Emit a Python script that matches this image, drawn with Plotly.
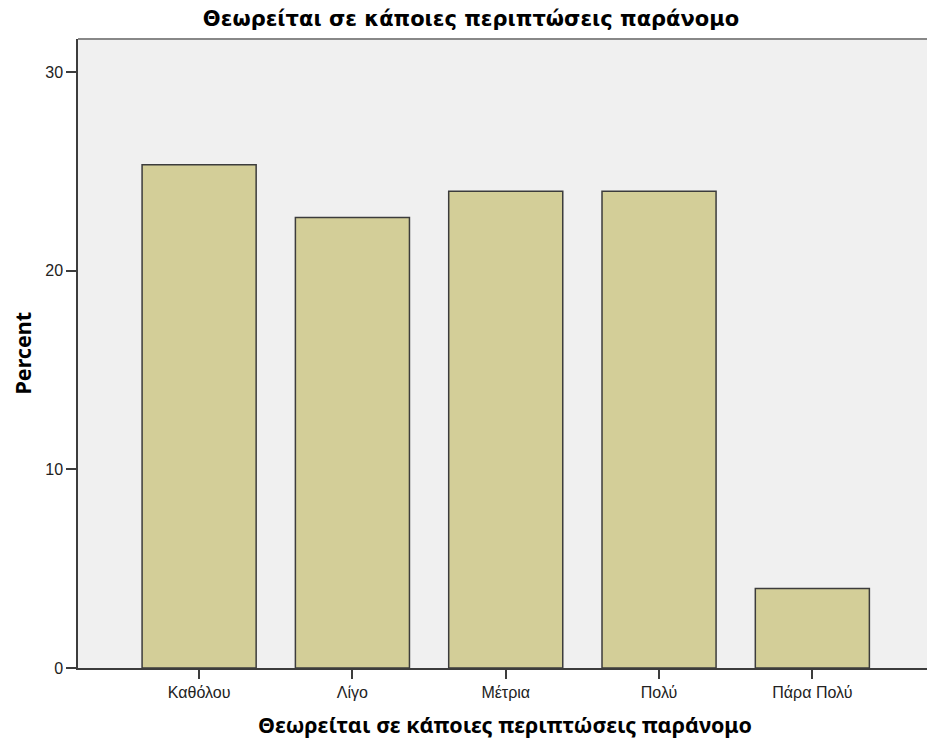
import plotly.graph_objects as go

categories = ["Καθόλου", "Λίγο", "Μέτρια", "Πολύ", "Πάρα Πολύ"]
percent = [25.33, 22.67, 24.0, 24.0, 4.0]
y_ticks = [0, 10, 20, 30]
title_text = "Θεωρείται σε κάποιες περιπτώσεις παράνομο"
y_title = "Percent"

# page body has an 8px default margin, so the figure is offset by 8px
W, H = 927, 735
L, R, T, B = 70, 0, 31, 75
pw, ph = W - L - R, H - T - B

fig = go.Figure(go.Bar(
    x=list(range(len(categories))), y=percent,
    marker=dict(color="#D3CE98", line=dict(color="#3c3c3c", width=1.5)),
    hoverinfo="skip",
))

tick_font = dict(family="Liberation Sans", size=16, color="#222")

fig.update_layout(
    width=W, height=H,
    margin=dict(l=L, r=R, t=T, b=B, pad=0),
    paper_bgcolor="white", plot_bgcolor="#F0F0F0",
    bargap=0.256, showlegend=False,
    title=dict(text=title_text, xref="container", x=463 / W, xanchor="center",
               yref="container", y=1 - 11 / H, yanchor="middle",
               font=dict(family="DejaVu Sans", size=21, color="#000000", weight="bold")),
    xaxis=dict(range=[-0.79, 4.8], tickmode="array",
               tickvals=list(range(len(categories))), ticktext=categories,
               ticks="outside", ticklen=9, tickcolor="#3c3c3c", tickwidth=1.5,
               showline=True, linecolor="#3c3c3c", linewidth=1.5,
               showgrid=False, zeroline=False, tickfont=tick_font),
    yaxis=dict(range=[0, 31.66], tickmode="array", tickvals=y_ticks,
               ticks="outside", ticklen=10, tickcolor="#3c3c3c", tickwidth=1.5,
               showline=True, linecolor="#3c3c3c", linewidth=1.5,
               showgrid=False, zeroline=False, tickfont=tick_font),
    shapes=[dict(type="line", xref="paper", yref="paper", x0=0, x1=1, y0=1, y1=1,
                 line=dict(color="#888888", width=2))],
    annotations=[
        dict(text=title_text, xref="paper", yref="paper",
             x=(497 - L) / pw, y=-56 / ph, xanchor="center", yanchor="middle",
             showarrow=False,
             font=dict(family="Noto Sans", size=21.5, color="#000", weight="bold")),
        dict(text=y_title, xref="paper", yref="paper", textangle=-90,
             x=(14 - L) / pw, y=0.5, xanchor="center", yanchor="middle",
             showarrow=False,
             font=dict(family="Noto Sans", size=21.5, color="#000", weight="bold")),
    ],
)

fig.write_html("out.html")
